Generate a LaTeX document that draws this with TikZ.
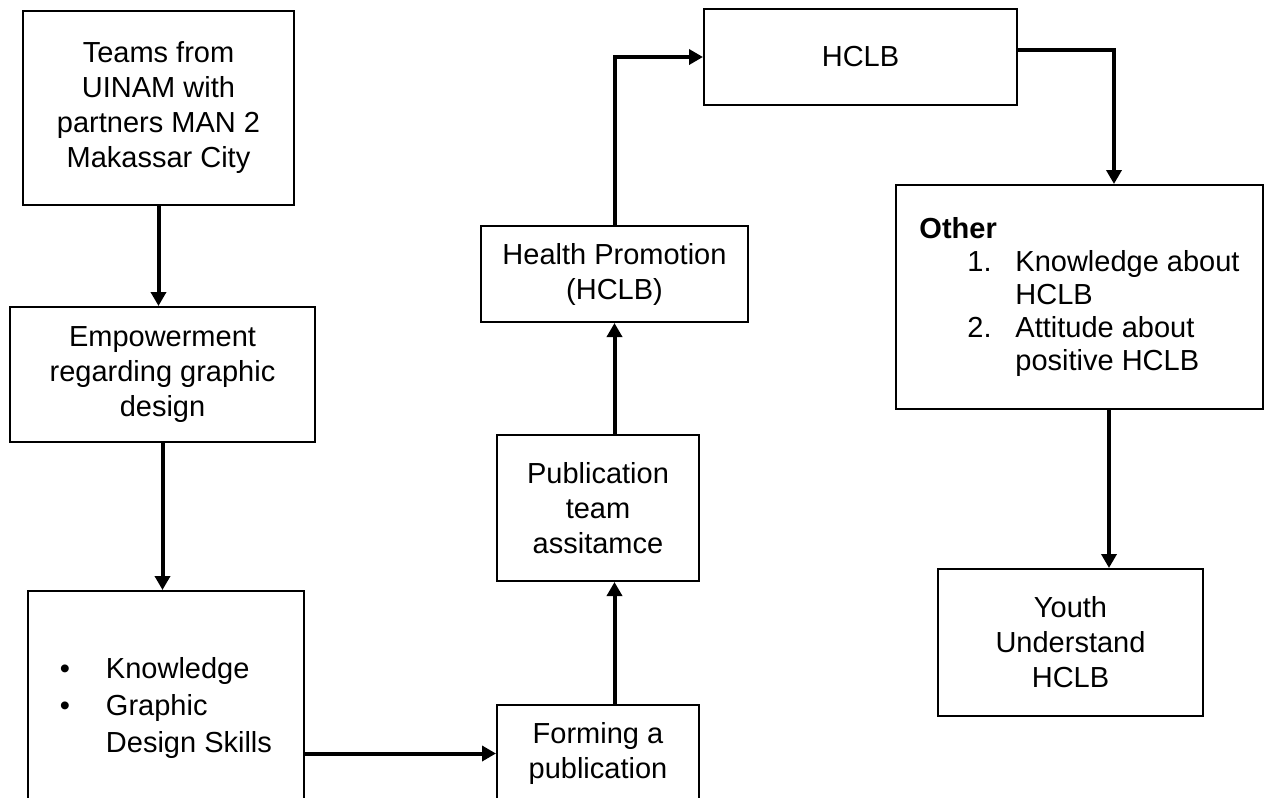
\documentclass[tikz,border=0pt]{standalone}
\usepackage{fontspec}
\setmainfont{Liberation Sans}
\usetikzlibrary{arrows.meta}
\newcommand{\bul}{\makebox[23pt][l]{\textbullet}}
\newcommand{\enumlbl}[1]{\makebox[24pt][l]{#1}}
\begin{document}
\begin{tikzpicture}[x=0.5pt,y=-0.5pt,
    box/.style={draw,line width=1pt,inner sep=0pt,align=center,
      font=\fontsize{14.5pt}{17.5pt}\selectfont}]
  \useasboundingbox (0,0) rectangle (1266,798);
  \clip (0,0) rectangle (1266,798);
  \draw
    (158.5,108) node[box,minimum width=135.5pt,minimum height=97pt] (teams){Teams from\\UINAM with\\partners MAN 2\\Makassar City}
    (162.5,374.5) node[box,minimum width=152.5pt,minimum height=67.5pt] (empow){Empowerment\\regarding graphic\\design}
    (166,707.5) node[box,align=left,minimum width=138pt,minimum height=116.5pt,
      font=\fontsize{14.5pt}{18.5pt}\selectfont] (know){\bul Knowledge\\\bul Graphic\\\hspace*{23pt}Design Skills}
    (598,753.5) node[box,minimum width=101pt,minimum height=48.5pt] (forming){Forming a\\publication}
    (598,508) node[box,minimum width=101pt,minimum height=73pt] (pub){Publication\\team\\assitamce}
    (614.5,274) node[box,minimum width=133.5pt,minimum height=48pt] (hp){Health Promotion\\(HCLB)}
    (860.5,57) node[box,minimum width=156.5pt,minimum height=48pt] (hclb){HCLB}
    (1079.5,297) node[box,align=left,minimum width=183.5pt,minimum height=112pt,
      font=\fontsize{14.5pt}{16.5pt}\selectfont] (other){\textbf{Other}\\
      \hspace*{24pt}\enumlbl{1.}Knowledge about\\
      \hspace*{48pt}HCLB\\
      \hspace*{24pt}\enumlbl{2.}Attitude about\\
      \hspace*{48pt}positive HCLB}
    (1070.5,642.5) node[box,minimum width=132.5pt,minimum height=73.5pt] (youth){Youth\\Understand\\HCLB};
  \begin{scope}[line width=2pt,-{Triangle[length=7pt,width=7.5pt]}]
    \draw (teams.south) to (teams.south |- empow.north);
    \draw (empow.south) to (empow.south |- know.north);
    \draw (know.east |- forming.west) to (forming.west);
    \draw (forming.north -| hp.south) to (pub.south -| hp.south);
    \draw (hp.south |- pub.north) to (hp.south);
    \draw (hp.north) |- (hclb.west);
    \draw ([yshift=3.5pt]hclb.east) -| ([xshift=17.25pt]other.north);
    \draw ([xshift=14.75pt]other.south) to ([xshift=14.75pt]other.south |- youth.north);
  \end{scope}
\end{tikzpicture}
\end{document}
